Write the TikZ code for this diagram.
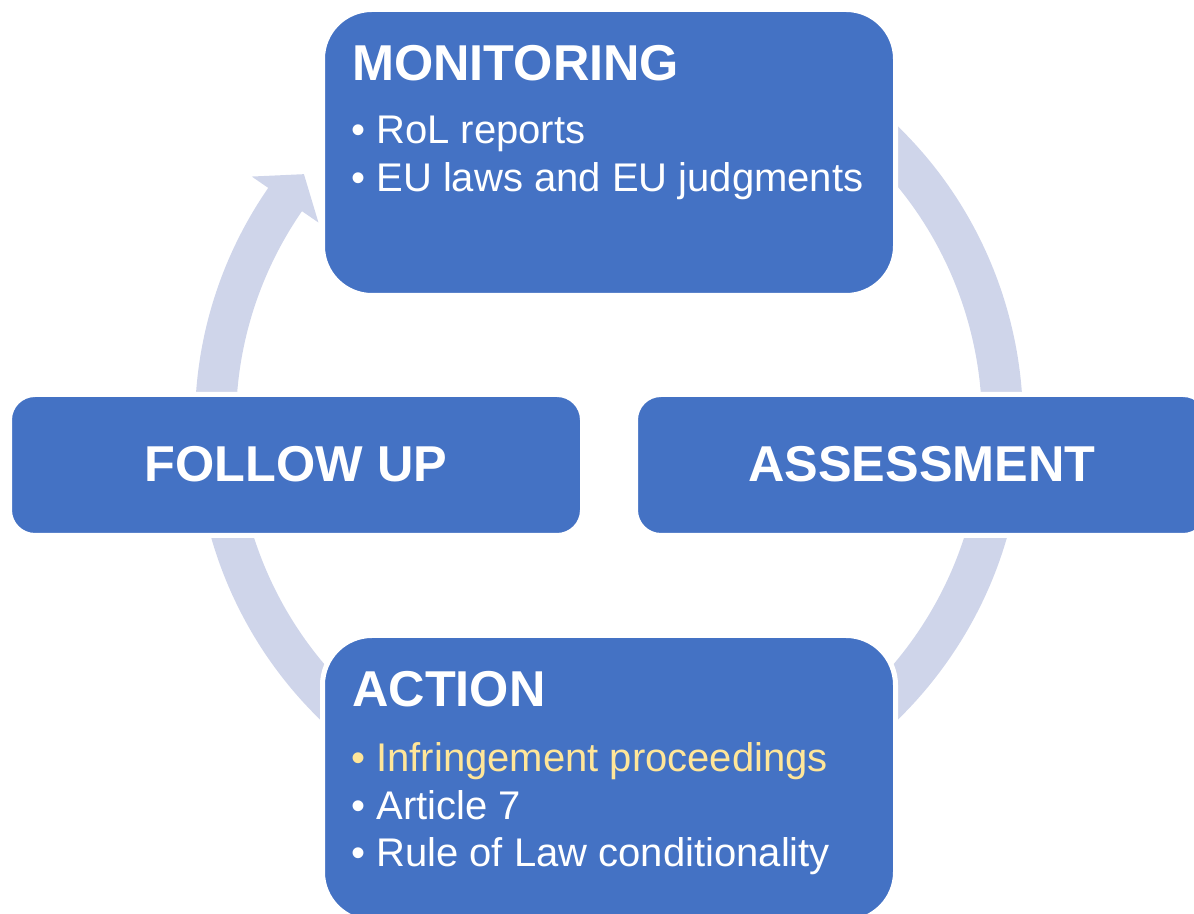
\documentclass[tikz,border=0pt]{standalone}
\usepackage{fontspec}
\setmainfont{Liberation Sans}
\definecolor{boxblue}{HTML}{4472C4}
\definecolor{ringblue}{HTML}{CFD5EA}
\definecolor{goldtxt}{HTML}{FFE699}
\begin{document}
\begin{tikzpicture}[x=0.5pt,y=0.5pt,
  panel/.style={rectangle, rounded corners=#1, fill=boxblue, draw=white, line width=2.5pt, inner sep=0pt, minimum width=286.5pt},
  title/.style={text=white, font=\fontsize{25.2}{30}\selectfont\bfseries, inner sep=0pt},
  item/.style={text=white, font=\fontsize{20}{24}\selectfont, inner sep=0pt, anchor=base west}]
\useasboundingbox (0,0) rectangle (1194,914);
\clip (0,0) rectangle (1194,914);
% circular arrow
\coordinate (c) at (609,491);
\draw[ringblue, line width=20.5pt] ([shift={(145:196.75pt)}]c) arc[start angle=145, end angle=450, radius=196.75pt];
\fill[ringblue] ([shift={(145.4:217pt)}]c) -- ([shift={(140.8:196.85pt)}]c) -- ([shift={(145.4:176.5pt)}]c) -- cycle;
% boxes
\node[panel=24.75pt, minimum height=143pt] (mon) at (609,761.5) {};
\node[panel=12.75pt, minimum height=70.5pt] (fu) at (296,449) {};
\node[panel=12.75pt, minimum height=70.5pt] (as) at (922,449) {};
\node[panel=24.75pt, minimum height=143pt] (ac) at (609,135.5) {};
% monitoring text
\node[title, anchor=base west] (monT) at (352,833) {MONITORING};
\node[item] (monB1) at (351,770) {•};
\node[item] (mon1) at (376,770) {RoL reports};
\node[item] (monB2) at (351,722) {•};
\node[item] (mon2) at (376,722) {EU laws and EU judgments};
% follow up / assessment
\node[title, anchor=base] (fuT) at (296,432) {FOLLOW UP};
\node[title, anchor=base] (asT) at (922,432) {ASSESSMENT};
% action text
\node[title, anchor=base west] (acT) at (352,207) {ACTION};
\node[item, text=goldtxt] (acB1) at (351,142) {•};
\node[item, text=goldtxt] (ac1) at (376,142) {Infringement proceedings};
\node[item] (acB2) at (351,94) {•};
\node[item] (ac2) at (376,94) {Article 7};
\node[item] (acB3) at (351,47) {•};
\node[item] (ac3) at (376,47) {Rule of Law conditionality};
\end{tikzpicture}
\end{document}
